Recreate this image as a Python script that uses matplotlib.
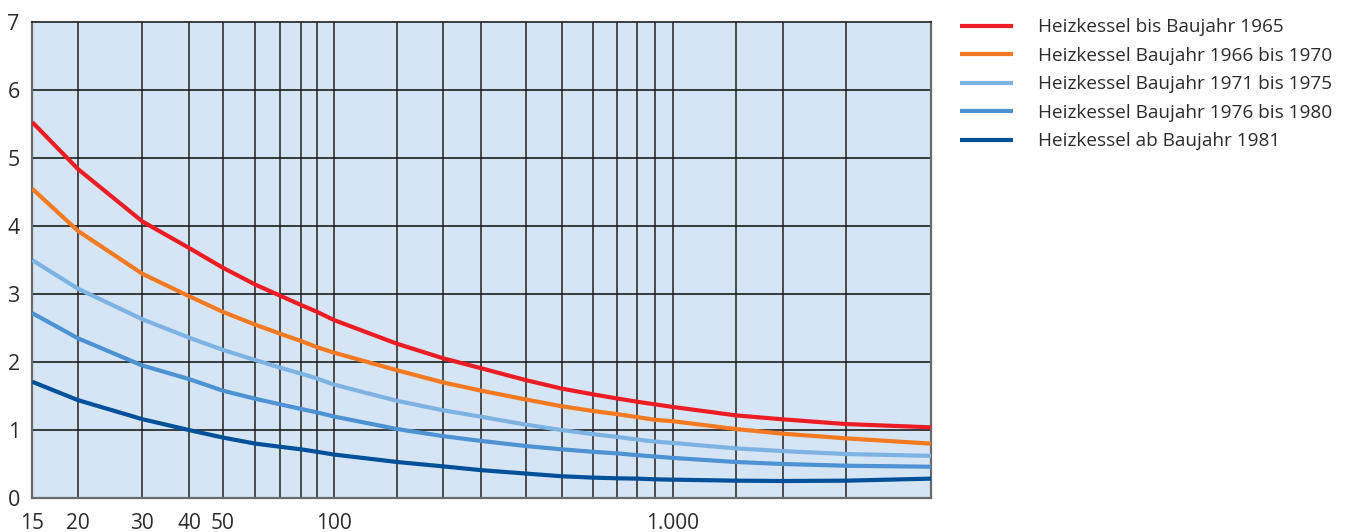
import numpy as np
import matplotlib
matplotlib.use('Agg')
import matplotlib.pyplot as plt

# Leistung (x) und Werte der fünf Kesselgruppen
x = [15, 20, 30, 40, 50, 60, 70, 80, 90, 100, 150, 200, 300, 400, 500,
     600, 700, 800, 900, 1000, 1500, 2000, 3000, 5000]
bis_1965 = [5.53, 4.84, 4.07, 3.68, 3.39, 3.14, 2.98, 2.84, 2.74, 2.62, 2.27, 2.055,
            1.91, 1.735, 1.61, 1.525, 1.466, 1.416, 1.378, 1.34, 1.216, 1.157, 1.088, 1.04]
bj_1966_1970 = [4.55, 3.93, 3.30, 2.97, 2.74, 2.55, 2.42, 2.31, 2.22, 2.14, 1.88, 1.70,
                1.58, 1.45, 1.35, 1.28, 1.235, 1.19, 1.15, 1.13, 1.015, 0.946, 0.878, 0.80]
bj_1971_1975 = [3.50, 3.08, 2.63, 2.36, 2.18, 2.03, 1.92, 1.83, 1.76, 1.67, 1.43, 1.29,
                1.196, 1.08, 1.0, 0.94, 0.90, 0.86, 0.83, 0.81, 0.73, 0.69, 0.647, 0.62]
bj_1976_1980 = [2.72, 2.35, 1.95, 1.75, 1.58, 1.46, 1.38, 1.31, 1.26, 1.20, 1.015, 0.91,
                0.84, 0.765, 0.716, 0.68, 0.657, 0.63, 0.61, 0.59, 0.53, 0.50, 0.475, 0.46]
ab_1981 = [1.71, 1.44, 1.16, 1.0, 0.89, 0.80, 0.755, 0.716, 0.68, 0.64, 0.53, 0.465,
           0.41, 0.36, 0.32, 0.30, 0.29, 0.285, 0.275, 0.27, 0.255, 0.25, 0.255, 0.285]

labels = ['Heizkessel bis Baujahr 1965',
          'Heizkessel Baujahr 1966 bis 1970',
          'Heizkessel Baujahr 1971 bis 1975',
          'Heizkessel Baujahr 1976 bis 1980',
          'Heizkessel ab Baujahr 1981']
colors = ['#ed1c24', '#f47920', '#7db3e3', '#4d92d2', '#00519a']

# Gitterlinien und beschriftete Werte der x-Achse
x_grid = [20, 30, 40, 50, 60, 70, 80, 90, 100, 150, 200, 300, 400, 500,
          600, 700, 800, 900, 1000, 1500, 2000, 3000]
x_labels = {15: '15', 20: '20', 30: '30', 40: '40', 50: '50', 100: '100', 1000: '1.000'}

# die Skala im Original ist nur ungefähr logarithmisch -> Stützstellen (Pixel)
scale_pos = [32.3, 78, 142.3, 189, 222.7, 255.3, 279.7, 301, 317, 333.7, 397, 443.3,
             481, 525.7, 561.7, 593, 616.7, 637.3, 655, 672.7, 735.7, 783.3, 846, 931]
log_knots = np.log10(x)


def fwd(v):
    v = np.clip(np.asarray(v, dtype=float), 1e-9, None)
    return np.interp(np.log10(v), log_knots, scale_pos)


def inv(p):
    return 10 ** np.interp(np.asarray(p, dtype=float), scale_pos, log_knots)


plt.rcParams['font.family'] = ['Open Sans', 'DejaVu Sans']

fig = plt.figure(figsize=(13.45, 5.32), dpi=100)
ax = fig.add_axes([32.3 / 1345, 1 - 498 / 532, (931 - 32.3) / 1345, (498 - 22.3) / 532])
ax.set_facecolor('#d5e5f5')
ax.set_xscale('function', functions=(fwd, inv))
ax.set_xlim(15, 5000)
ax.set_ylim(0, 7)

for g in x_grid:
    ax.axvline(g, color='#4a4a4a', lw=1.4, zorder=1)
for yv in range(1, 7):
    ax.axhline(yv, color='#1e1e1e', lw=1.2, zorder=1)

series = [bis_1965, bj_1966_1970, bj_1971_1975, bj_1976_1980, ab_1981]
for s, lab, c in zip(series, labels, colors):
    ax.plot(x, s, color=c, lw=3.0, label=lab, zorder=3, solid_capstyle='butt')

ax.set_xticks(list(x_labels.keys()))
ax.set_xticklabels(list(x_labels.values()))
ax.xaxis.set_minor_locator(matplotlib.ticker.NullLocator())
ax.set_yticks(range(0, 8))
ax.tick_params(axis='x', length=0, pad=11, labelsize=15, colors='#2b2b2b')
ax.tick_params(axis='y', length=0, pad=9, labelsize=15.5, colors='#2b2b2b')

for side in ['left', 'bottom', 'right']:
    ax.spines[side].set_color('#6a6a6a')
    ax.spines[side].set_linewidth(1.6)
ax.spines['top'].set_color('#1e1e1e')
ax.spines['top'].set_linewidth(1.2)

leg = ax.legend(loc='upper left', bbox_to_anchor=(960 / 1345, 1 - 18.5 / 532),
                bbox_transform=fig.transFigure, frameon=False, fontsize=13.7,
                handlelength=2.77, handletextpad=1.33, labelspacing=0.55,
                borderpad=0, borderaxespad=0)
for t in leg.get_texts():
    t.set_color('#2b2b2b')

fig.savefig('out.png', dpi=100)
